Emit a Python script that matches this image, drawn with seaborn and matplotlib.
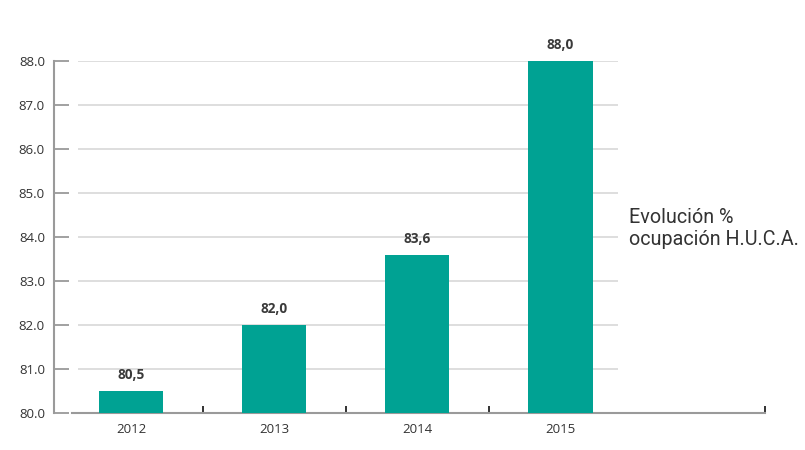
import numpy as np
import pandas as pd
import seaborn as sns
import matplotlib.pyplot as plt

years = ["2012", "2013", "2014", "2015"]
ocupacion = [80.5, 82.0, 83.6, 88.0]
bar_labels = ["80,5", "82,0", "83,6", "88,0"]
y_ticks = [80.0, 81.0, 82.0, 83.0, 84.0, 85.0, 86.0, 87.0, 88.0]

df = pd.DataFrame({"year": years, "value": ocupacion})

sns.set_style("white")
plt.rcParams["font.family"] = ["Open Sans", "DejaVu Sans"]

fig = plt.figure(figsize=(8.05, 4.5), dpi=100)
ax = fig.add_axes([54 / 805, 1 - 413 / 450, (765 - 54) / 805, (413 - 61) / 450])

sns.barplot(data=df, x="year", y="value", color="#00a293", saturation=1,
            width=0.45, linewidth=0, edgecolor="none", ax=ax, zorder=3)

x_lo, x_hi = -0.538, 4.43
ax.set_xlim(x_lo, x_hi)
ax.set_ylim(80, 88)

# light gridlines (start a bit right of the axis, stop before the text)
ax.hlines(y_ticks[1:], -0.37, 3.40, color="#dedede", lw=1.4, zorder=1)

for i, (v, lab) in enumerate(zip(ocupacion, bar_labels)):
    ax.annotate(lab, (i, v), xytext=(0, 6.5), textcoords="offset points",
                ha="center", va="bottom", fontsize=9.8, fontweight="bold",
                color="#3a3a3a")

ax.set_yticks(y_ticks)
ax.set_yticklabels([f"{t:.1f}" for t in y_ticks])
ax.tick_params(axis="y", left=True, direction="in", length=11, width=1.3,
               color="#9a9a9a", labelsize=9.5, labelcolor="#333333", pad=6.5)

ax.set_xticks(range(len(years)))
ax.set_xticklabels(years)
ax.tick_params(axis="x", which="major", bottom=True, length=0, labelsize=9.5,
               labelcolor="#333333", pad=7.5)
ax.set_xticks([0.5, 1.5, 2.5, x_hi - 0.003], minor=True)
ax.tick_params(axis="x", which="minor", bottom=True, direction="in", length=5,
               width=1.3, color="#222222")

for s in ["top", "right"]:
    ax.spines[s].set_visible(False)
ax.spines["left"].set_color("#9a9a9a")
ax.spines["left"].set_linewidth(1.5)
ax.spines["bottom"].set_color("#9a9a9a")
ax.spines["bottom"].set_linewidth(1.5)
ax.spines["bottom"].set_bounds(-0.41, x_hi)

ax.set_xlabel("")
ax.set_ylabel("")

fig.text(629 / 805, 1 - 228 / 450, "Evolución %\nocupación H.U.C.A.",
         family=["Roboto", "DejaVu Sans"], fontsize=14.2, color="#333333",
         ha="left", va="center", linespacing=1.2)

fig.savefig("out.png", dpi=100)
